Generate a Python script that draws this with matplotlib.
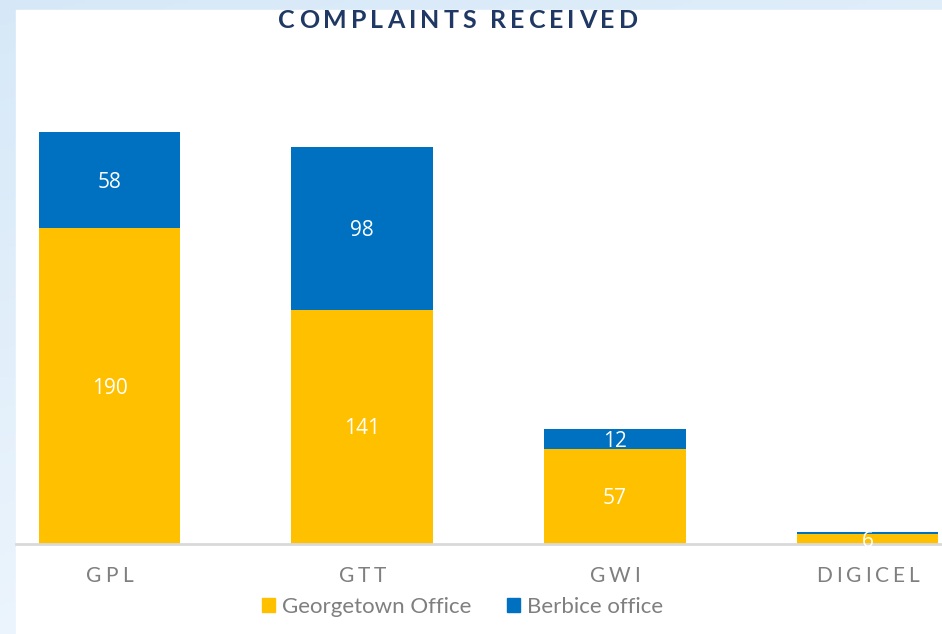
import numpy as np
import matplotlib.pyplot as plt
from matplotlib.patches import Rectangle, Patch
from matplotlib.textpath import TextToPath
from matplotlib.font_manager import FontProperties
from matplotlib.transforms import IdentityTransform

# ---------- dados ----------
empresas = ["GPL", "GTT", "GWI", "DIGICEL"]
georgetown = [190, 141, 57, 6]
berbice = [58, 98, 12, 1]

cor_geo = "#FFC000"
cor_ber = "#0070C0"

W, H = 942, 634
fig = plt.figure(figsize=(W / 100, H / 100), dpi=100)

ttp = TextToPath()

def texto_espacado(xc, yb, s, prop, extra, **kw):
    """Escreve texto com espaçamento entre letras (coords em pixels, origem embaixo)"""
    larg = [ttp.get_text_width_height_descent(c, prop, ismath=False)[0] * 100 / 72 for c in s]
    total = sum(larg) + extra * (len(s) - 1)
    x0 = xc - total / 2
    for c, w in zip(s, larg):
        fig.text(x0, yb, c, fontproperties=prop, ha="left", va="baseline",
                 transform=IdentityTransform(), **kw)
        x0 += w + extra

# ---------- fundo em degradê ----------
bg = fig.add_axes([0, 0, 1, 1])
yy, xx = np.mgrid[0:1:200j, 0:1:200j]
t = np.clip(0.7 * yy + 0.3 * (1 - xx), 0, 1)
top = np.array([0.96, 0.98, 1.0])
bot = np.array([0.84, 0.91, 0.97])
img = top[None, None, :] * (1 - t[..., None]) + bot[None, None, :] * t[..., None]
bg.imshow(img[::-1], extent=[0, 1, 0, 1], aspect="auto", origin="upper")
bg.add_patch(Rectangle((16 / W, 0), 1, 1 - 10 / H, color="white", zorder=2))
bg.set_xlim(0, 1)
bg.set_ylim(0, 1)
bg.axis("off")

# ---------- gráfico ----------
ax = fig.add_axes([16 / W, 90 / H, 1 - 16 / W, (544 - 10) / H])
ax.patch.set_alpha(0)

x = np.arange(len(empresas))
largura = 0.56
ax.bar(x, georgetown, largura, color=cor_geo, label="Georgetown Office")
ax.bar(x, berbice, largura, bottom=georgetown, color=cor_ber, label="Berbice office")

# rótulos de valor (um pouco abaixo do centro, como no original)
for i in range(len(empresas)):
    ax.annotate(str(georgetown[i]), (x[i], georgetown[i] / 2), xytext=(0, -2),
                textcoords="offset pixels", ha="center", va="center",
                color="white", fontsize=15, family="Open Sans")
    if berbice[i] > 5:
        ax.annotate(str(berbice[i]), (x[i], georgetown[i] + berbice[i] / 2), xytext=(0, -2),
                    textcoords="offset pixels", ha="center", va="center",
                    color="white", fontsize=15, family="Open Sans")

ax.set_xlim(-0.37, 3.294)
ax.set_ylim(0, 321.5)
ax.set_yticks([])
ax.set_xticks(x)
ax.set_xticklabels([])
ax.tick_params(axis="x", length=0)
for s in ["top", "right", "left"]:
    ax.spines[s].set_visible(False)
ax.spines["bottom"].set_color("#D9D9D9")
ax.spines["bottom"].set_linewidth(2)

# rótulos das categorias (espaçados)
prop_tick = FontProperties(family="Lato", size=15)
for i, nome in enumerate(empresas):
    px = ax.transData.transform((x[i], 0))[0]
    texto_espacado(px, H - 582, nome, prop_tick, 3.8, color="#7F7F7F")

# título
prop_tit = FontProperties(family="Lato", size=18, weight="bold")
texto_espacado(458, H - 28, "COMPLAINTS RECEIVED", prop_tit, 4, color="#1F3864")

handles = [Patch(color=cor_geo), Patch(color=cor_ber)]
fig.legend(handles, ["Georgetown Office", "Berbice office"], loc="center",
           bbox_to_anchor=(463 / W, 1 - 607 / H), ncol=2, frameon=False,
           labelcolor="#7F7F7F", prop={"family": "Lato", "size": 16},
           handlelength=0.55, handleheight=0.55, handletextpad=0.35, columnspacing=1.6)

fig.savefig("out.png", dpi=100)
